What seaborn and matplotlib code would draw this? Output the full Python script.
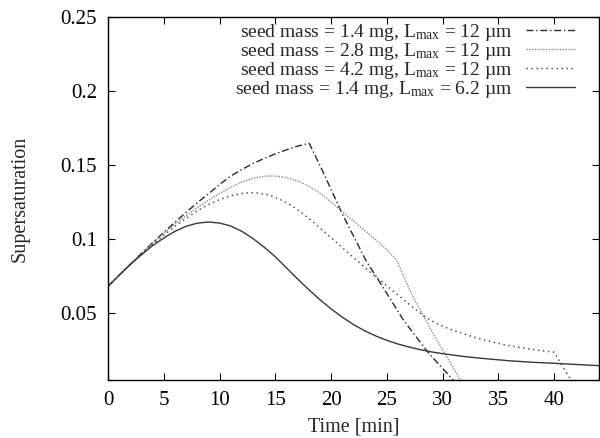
import numpy as np
import pandas as pd
import matplotlib
matplotlib.use("Agg")
import matplotlib.pyplot as plt
import seaborn as sns
from matplotlib.ticker import FuncFormatter

# ---- data ----
# seed mass 1.4 mg, Lmax 12 um (dash-dot)
t_a = [0, 1, 2, 3, 4, 5, 6, 7, 8, 9, 10, 11, 12, 13, 14, 15, 16, 17, 18.04,
       19.2, 21.0, 23.1, 24.6, 26.5, 28.75, 30.8, 31.5]
s_a = [0.068, 0.0755, 0.083, 0.0903, 0.0975, 0.1045, 0.1113, 0.1180, 0.1245, 0.1305, 0.1368, 0.1425,
       0.1470, 0.1510, 0.1545, 0.1575, 0.1603, 0.1628, 0.1647,
       0.1466, 0.117, 0.0858, 0.068, 0.045, 0.0228, 0.0059, 0.0]

# seed mass 2.8 mg, Lmax 12 um (fine dots)
t_b = [0, 1, 2, 3, 4, 5, 6, 7, 8, 9, 10, 11, 12, 13, 14, 14.5, 15, 16, 17, 18, 19, 20, 21, 22, 23, 24,
       25, 25.85, 27.2, 29.3, 31.5, 32.0]
s_b = [0.068, 0.0755, 0.083, 0.0902, 0.0972, 0.1038, 0.1100, 0.1158, 0.1212, 0.1262, 0.1308, 0.1350,
       0.1385, 0.1410, 0.1424, 0.1426, 0.1425, 0.1415, 0.1392, 0.1358, 0.1310, 0.1250, 0.1185, 0.1122,
       0.1058, 0.0995, 0.0928, 0.0860, 0.063, 0.034, 0.006, 0.0]

# seed mass 4.2 mg, Lmax 12 um (coarse dots)
t_c = [0, 1, 2, 3, 4, 5, 6, 7, 8, 9, 10, 11, 12, 12.7, 13.5, 14.5, 15.5, 16.5, 17.5, 18.5, 19.5, 20.5,
       21.5, 22.5, 23.5, 24.5, 25.5, 26.5, 27.5, 28.5, 29.5, 30.5, 31.5, 32.5, 33.5, 34.5, 35.5, 36.5,
       37.5, 38.5, 39.5, 40.0, 41.4, 41.9]
s_c = [0.068, 0.0755, 0.0828, 0.0898, 0.0963, 0.1025, 0.1085, 0.1140, 0.1190, 0.1232, 0.1266, 0.1292,
       0.1308, 0.1313, 0.1310, 0.1296, 0.1265, 0.1225, 0.1170, 0.1108, 0.1042, 0.0975, 0.0908, 0.0842,
       0.0777, 0.0715, 0.0652, 0.0590, 0.0528, 0.0470, 0.0428, 0.0395, 0.0368, 0.0344, 0.0322, 0.0303,
       0.0286, 0.0272, 0.0260, 0.0249, 0.0239, 0.0235, 0.0059, 0.0]

# seed mass 1.4 mg, Lmax 6.2 um (solid)
t_d = [0, 1, 2, 3, 4, 5, 6, 7, 8, 9, 10, 11, 12, 13, 14, 15, 16, 17, 18, 19, 20, 21, 22, 23, 24, 25,
       26, 27, 28, 29, 30, 32, 34, 36, 38, 40, 42, 44]
s_d = [0.068, 0.0755, 0.0828, 0.0893, 0.0955, 0.1007, 0.1052, 0.1086, 0.1107, 0.1115, 0.1108, 0.1088,
       0.1052, 0.1003, 0.0945, 0.0880, 0.0805, 0.0730, 0.0658, 0.0590, 0.0528, 0.0472, 0.0422, 0.0380,
       0.0345, 0.0315, 0.0290, 0.0270, 0.0252, 0.0237, 0.0225, 0.0205, 0.0190, 0.0177, 0.0167, 0.0160,
       0.0152, 0.0144]

labels = [
    "seed mass = 1.4 mg, L$_\\mathrm{max}$ = 12 µm",
    "seed mass = 2.8 mg, L$_\\mathrm{max}$ = 12 µm",
    "seed mass = 4.2 mg, L$_\\mathrm{max}$ = 12 µm",
    "seed mass = 1.4 mg, L$_\\mathrm{max}$ = 6.2 µm",
]
x_ticks = [0, 5, 10, 15, 20, 25, 30, 35, 40]
y_ticks = [0.05, 0.1, 0.15, 0.2, 0.25]

# ---- style ----
sns.set_theme(style="ticks")
plt.rcParams["font.family"] = ["Liberation Serif", "DejaVu Serif"]
plt.rcParams["mathtext.fontset"] = "custom"
plt.rcParams["mathtext.rm"] = "Liberation Serif"
plt.rcParams["mathtext.it"] = "Liberation Serif:italic"

fig = plt.figure(figsize=(6.0, 4.38), dpi=100)
ax = fig.add_axes([0.18, 0.1324, 0.818, 0.8286])

series = [
    (t_a, s_a, "#2a2a2a", (0, (5, 2, 1, 2))),
    (t_b, s_b, "#8a8a8a", (0, (1, 1))),
    (t_c, s_c, "#3a3a3a", (0, (1, 2.6))),
    (t_d, s_d, "#383838", "-"),
]
for (tx, sy, col, ls), lab in zip(series, labels):
    df = pd.DataFrame({"t": tx, "s": sy})
    sns.lineplot(data=df, x="t", y="s", ax=ax, color=col, linestyle=ls, linewidth=1.0,
                 estimator=None, sort=False, label=lab)

ax.set_xlim(0, 44)
ax.set_ylim(0.0047, 0.25)
ax.set_xticks(x_ticks)
ax.set_yticks(y_ticks)
ax.yaxis.set_major_formatter(FuncFormatter(lambda v, p: "%g" % v))
ax.tick_params(direction="in", length=5, width=0.8, top=True, right=True, labelsize=15,
               colors="black", pad=8)
for sp in ax.spines.values():
    sp.set_linewidth(1.0)
    sp.set_color("black")

ax.set_xlabel("Time [min]", fontsize=14.5, labelpad=5)
ax.set_ylabel("Supersaturation", fontsize=14.5, labelpad=22)

leg = ax.legend(loc="upper right", bbox_to_anchor=(0.96, 0.998), frameon=False, markerfirst=False,
                fontsize=14, labelspacing=-0.1, handlelength=2.55, handletextpad=0.7,
                borderaxespad=0.0, borderpad=0.2)

fig.savefig("out.png", dpi=100)
